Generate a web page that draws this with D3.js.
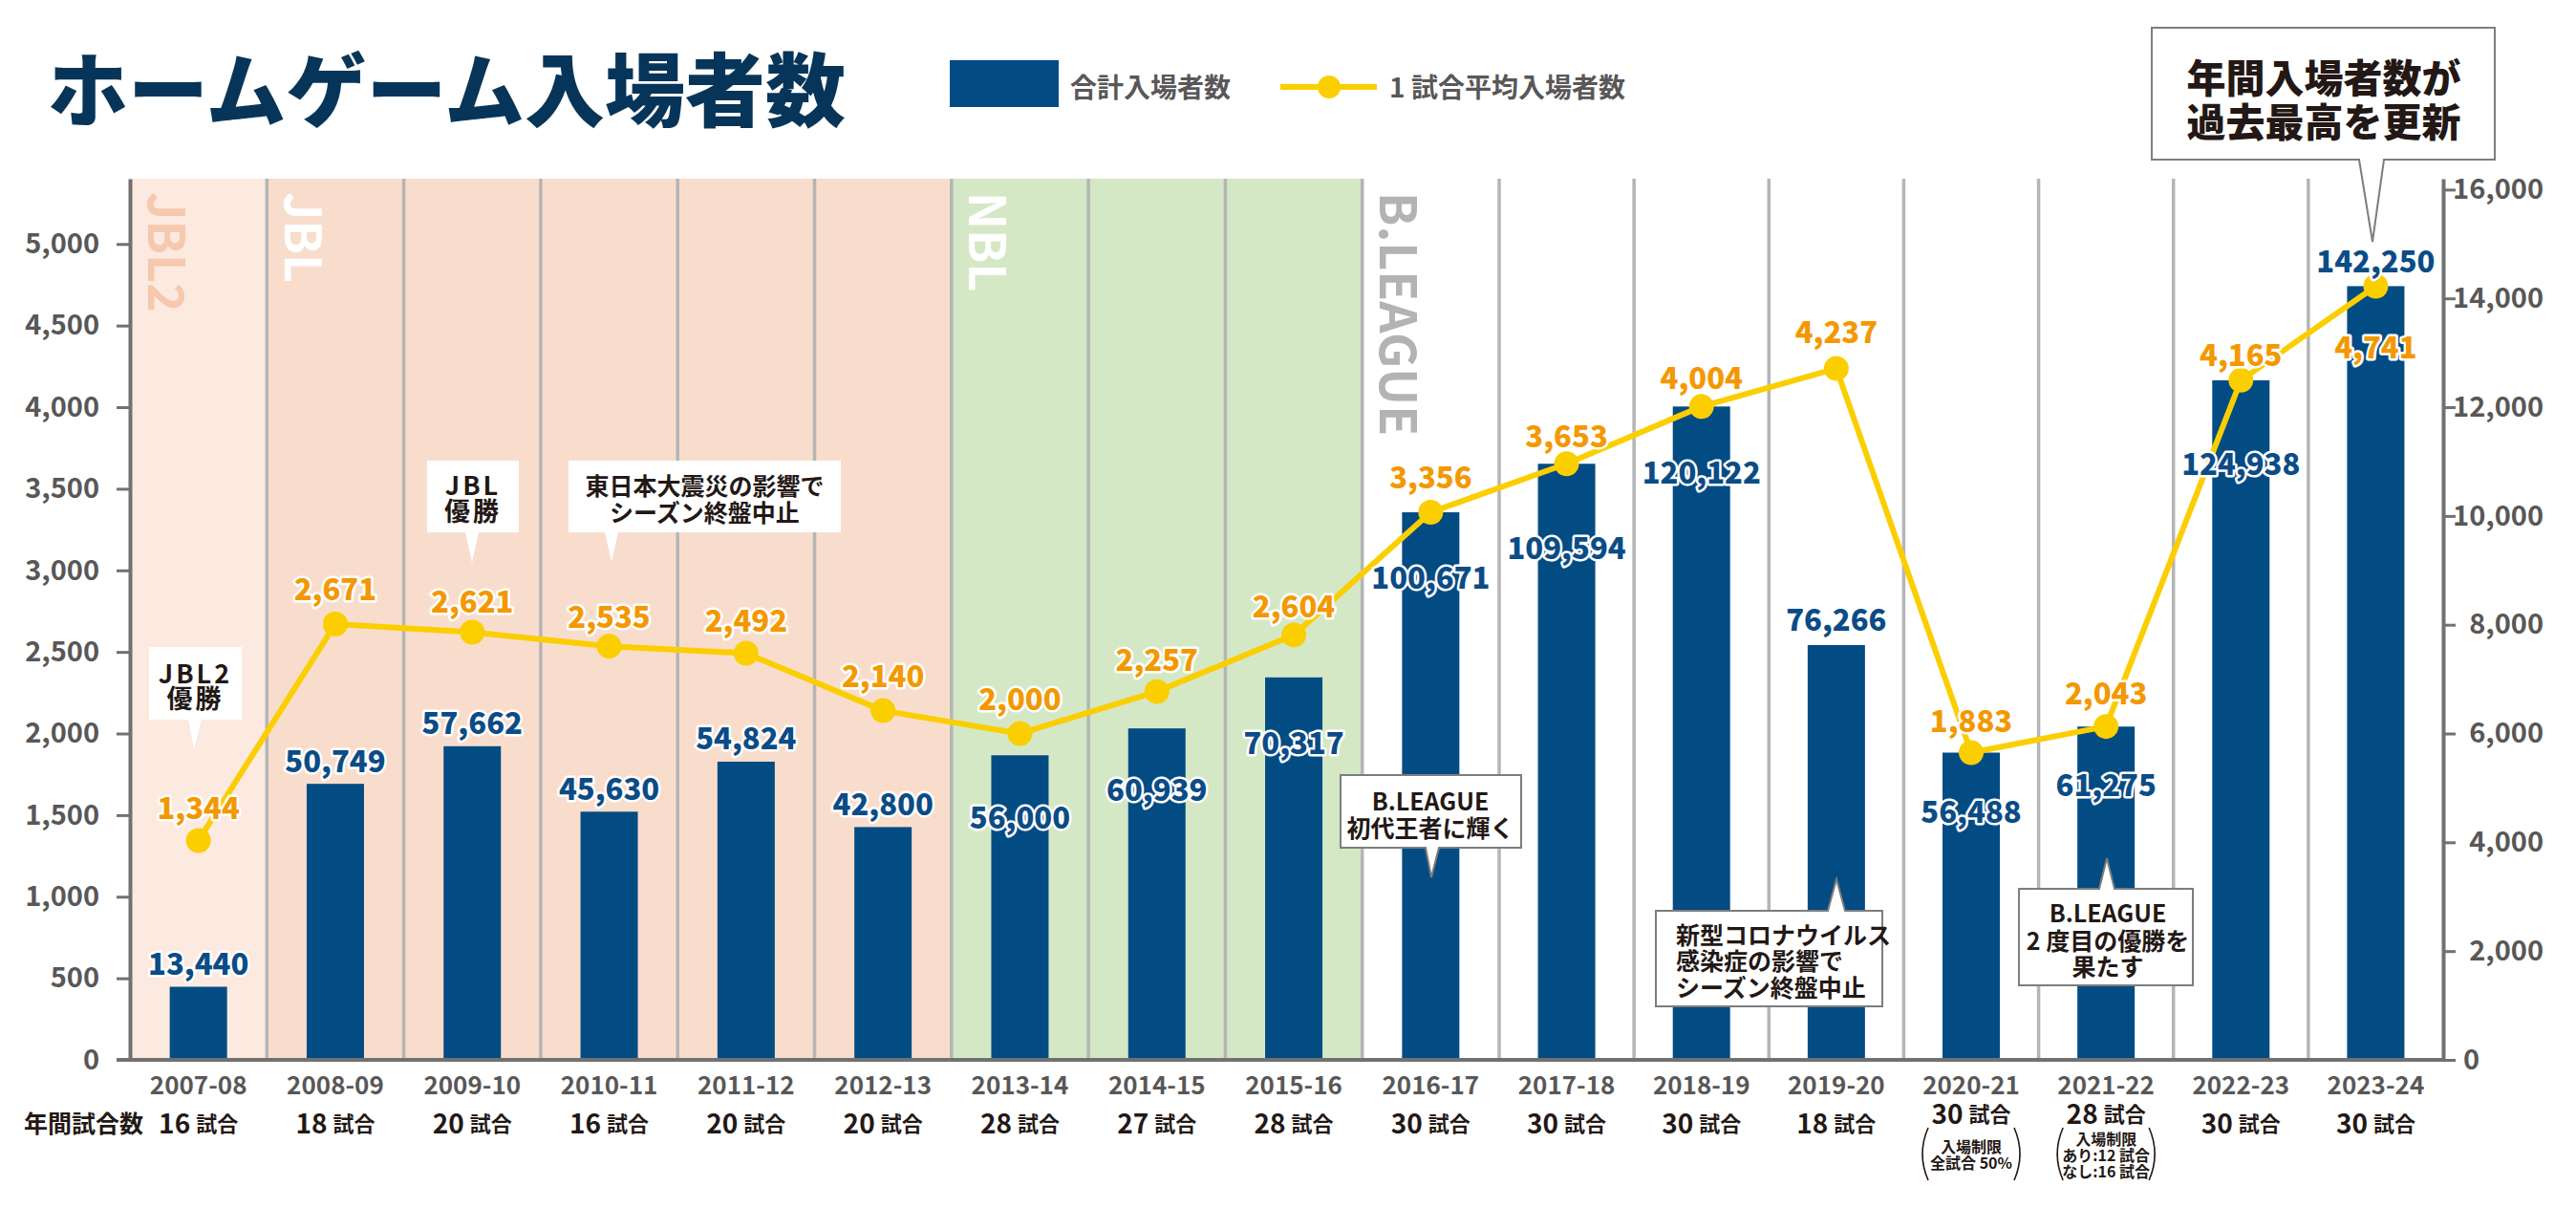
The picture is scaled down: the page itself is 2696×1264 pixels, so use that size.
<!DOCTYPE html>
<html>
<head>
<meta charset="utf-8">
<script src="https://cdn.jsdelivr.net/npm/d3@7"></script>
<style>
html,body{margin:0;padding:0;background:#fff;}
svg{display:block;font-family:"Noto Sans CJK JP","Noto Sans",sans-serif;}
</style>
</head>
<body>
<svg id="chart" width="2696" height="1264"></svg>
<script>
// ---------------- data ----------------
const seasons = ["2007-08","2008-09","2009-10","2010-11","2011-12","2012-13","2013-14","2014-15","2015-16","2016-17","2017-18","2018-19","2019-20","2020-21","2021-22","2022-23","2023-24"];
const totalAttendance = [13440,50749,57662,45630,54824,42800,56000,60939,70317,100671,109594,120122,76266,56488,61275,124938,142250];
const avgAttendance = [1344,2671,2621,2535,2492,2140,2000,2257,2604,3356,3653,4004,4237,1883,2043,4165,4741];
const gamesPerSeason = [16,18,20,16,20,20,28,27,28,30,30,30,18,30,28,30,30];
const leftTicks = [0,500,1000,1500,2000,2500,3000,3500,4000,4500,5000];
const rightTicks = [0,2000,4000,6000,8000,10000,12000,14000,16000];
const leagueNames = ["JBL2","JBL","NBL","B.LEAGUE"];
const leagueFirstSeason = [0,1,6,9];
const leagueLastSeason = [0,5,8,16];
const noteSeason2020 = ["入場制限","全試合 50%"];
const noteSeason2021 = ["入場制限","あり:12 試合","なし:16 試合"];

// ---------------- layout / style ----------------
const svg = d3.select("#chart");
const plotTop = 187, plotBottom = 1109, plotLeft = 136, plotRight = 2557;
const C = {
  bar:"#034c83", barLabel:"#0b4c86", line:"#fbce00", avgLabel:"#f39800",
  axis:"#727171", sep:"#b5b5b5", tick:"#595757", dark:"#231815", title:"#063559"
};
const leagueFill = {"JBL2":"#fce9e0","JBL":"#f9ddcc","NBL":"#d5e8c6","B.LEAGUE":"#ffffff"};
const leagueText = {"JBL2":"#f6c8ae","JBL":"#ffffff","NBL":"#ffffff","B.LEAGUE":"#b3b3b3"};
// label placement (not data): bar label above or inside bar, with offset
const barLabelDy = [-26,-26,-26,-26,-26,-26,63,62,67,66,86,67,-28,60,59,86,-28];
const avgLabelDy = [-36,-38,-34,-33,-36,-38,-38,-35,-32,-38,-31,-32,-40,-35,-37,-28,62];

// scales
const edge = d3.scaleLinear().domain([0,10,seasons.length]).range([plotLeft,1569,plotRight]);
const xc = i => (edge(i)+edge(i+1))/2;
const yLeft = d3.scaleLinear().domain([0,5400]).range([plotBottom,plotTop]);
const yRight = d3.scaleLinear().domain([0,16200]).range([plotBottom,plotTop]);
const yBar = d3.scaleLinear().domain([0,162000]).range([plotBottom,plotTop]);
const fmt = d3.format(",");
const barW = 60;

// ---------------- title & legend ----------------
svg.append("text").attr("x",50).attr("y",89).attr("dominant-baseline","central")
  .attr("font-size",84).attr("font-weight",900).attr("fill",C.title).text("ホームゲーム入場者数");

svg.append("rect").attr("x",994).attr("y",63).attr("width",114).attr("height",49).attr("fill",C.bar);
svg.append("text").attr("x",1120).attr("y",90).attr("dominant-baseline","central")
  .attr("font-size",28).attr("font-weight",700).attr("fill",C.tick).text("合計入場者数");
svg.append("line").attr("x1",1340).attr("x2",1441).attr("y1",91).attr("y2",91)
  .attr("stroke",C.line).attr("stroke-width",6);
svg.append("circle").attr("cx",1391).attr("cy",91).attr("r",12).attr("fill",C.line);
svg.append("text").attr("x",1454).attr("y",90).attr("dominant-baseline","central")
  .attr("font-size",28).attr("font-weight",700).attr("fill",C.tick).text("1 試合平均入場者数");

// ---------------- league bands ----------------
const g = svg.append("g");
leagueNames.forEach((name,k)=>{
  const x0 = edge(leagueFirstSeason[k]), x1 = edge(leagueLastSeason[k]+1);
  g.append("rect").attr("x",x0).attr("y",plotTop).attr("width",x1-x0).attr("height",plotBottom-plotTop)
    .attr("fill",leagueFill[name]);
});
// separators
d3.range(1,seasons.length).forEach(i=>{
  g.append("line").attr("x1",edge(i)).attr("x2",edge(i)).attr("y1",plotTop).attr("y2",plotBottom)
    .attr("stroke",C.sep).attr("stroke-width",3.5);
});
// league labels (rotated)
leagueNames.forEach((name,k)=>{
  const x0 = edge(leagueFirstSeason[k]);
  g.append("text").attr("transform",`translate(${x0+41},${plotTop+14}) rotate(90)`)
    .attr("dominant-baseline","central").attr("font-size",52).attr("font-weight",700)
    .attr("fill",leagueText[name]).text(name);
});

// ---------------- axes ----------------
const axL = svg.append("g").attr("transform",`translate(${plotLeft},0)`)
  .call(d3.axisLeft(yLeft).tickValues(leftTicks).tickSize(14).tickSizeOuter(0).tickPadding(18).tickFormat(fmt));
axL.select(".domain").attr("stroke",C.axis).attr("stroke-width",4);
axL.selectAll(".tick line").attr("stroke",C.axis).attr("stroke-width",3);
axL.selectAll(".tick text").attr("font-size",29).attr("font-weight",700).attr("fill",C.tick)
  .attr("font-family",'"Noto Sans CJK JP",sans-serif');

const axR = svg.append("g").attr("transform",`translate(${plotRight},0)`)
  .call(d3.axisRight(yRight).tickValues(rightTicks).tickSize(13).tickSizeOuter(0).tickPadding(20).tickFormat(fmt));
axR.select(".domain").attr("stroke",C.axis).attr("stroke-width",4);
axR.selectAll(".tick line").attr("stroke",C.axis).attr("stroke-width",3);
axR.selectAll(".tick text").attr("font-size",29).attr("font-weight",700).attr("fill",C.tick)
  .attr("font-family",'"Noto Sans CJK JP",sans-serif')
  .attr("text-anchor",d=>d===0?"start":"end").attr("x",d=>d===0?21:105);

svg.append("line").attr("x1",plotLeft-14).attr("x2",plotRight+2).attr("y1",plotBottom).attr("y2",plotBottom)
  .attr("stroke",C.axis).attr("stroke-width",4);

// ---------------- bars ----------------
svg.append("g").selectAll("rect").data(totalAttendance).join("rect")
  .attr("x",(d,i)=>xc(i)-barW/2).attr("width",barW)
  .attr("y",d=>yBar(d)).attr("height",d=>plotBottom-2-yBar(d)).attr("fill",C.bar);

// ---------------- line ----------------
const line = d3.line().x((d,i)=>xc(i)).y(d=>yLeft(d));
svg.append("path").datum(avgAttendance).attr("d",line).attr("fill","none")
  .attr("stroke",C.line).attr("stroke-width",6).attr("stroke-linejoin","round");
svg.append("g").selectAll("circle").data(avgAttendance).join("circle")
  .attr("cx",(d,i)=>xc(i)).attr("cy",d=>yLeft(d)).attr("r",13).attr("fill",C.line);

// ---------------- callouts ----------------
const callouts = [
  {lines:["JBL2","優勝"], box:[156,677,97,76], tip:[203,784], bx:204, bw:7, dir:"down", border:false, ty:[703,729], tx:204.5, fs:27, ls:3},
  {lines:["JBL","優勝"], box:[447,482,96,75], tip:[494,589], bx:494, bw:7, dir:"down", border:false, ty:[506,533], tx:495, fs:27, ls:3},
  {lines:["東日本大震災の影響で","シーズン終盤中止"], box:[595,482,285,75], tip:[640,588], bx:640, bw:7, dir:"down", border:false, ty:[507,535], tx:737.5, fs:25},
  {lines:["B.LEAGUE","初代王者に輝く"], box:[1403,811,189,76], tip:[1498,918], bx:1499, bw:7, dir:"down", border:true, ty:[837,865], tx:1497, fs:25},
  {lines:["新型コロナウイルス","感染症の影響で","シーズン終盤中止"], box:[1733,953,237,100], tip:[1922,920], bx:1922, bw:9, dir:"up", border:true, ty:[977,1004,1032], tx:1754, fs:25, anchor:"start"},
  {lines:["B.LEAGUE","2 度目の優勝を","果たす"], box:[2113,930,182,101], tip:[2205,898], bx:2205, bw:8, dir:"up", border:true, ty:[954,983,1010], tx:2206, fs:25},
  {lines:["年間入場者数が","過去最高を更新"], box:[2252,29,359,138], tip:[2483,253], bx:2482, bw:13, dir:"down", border:true, ty:[79,125], tx:2432, fs:41, fw:900}
];
const cg = svg.append("g");
callouts.forEach(a=>{
  const [x,y,w,h] = a.box, [tx,ty] = a.tip;
  let p;
  if (a.dir==="down") p = `M${x},${y}H${x+w}V${y+h}H${a.bx+a.bw}L${tx},${ty}L${a.bx-a.bw},${y+h}H${x}Z`;
  else p = `M${x},${y+h}H${x+w}V${y}H${a.bx+a.bw}L${tx},${ty}L${a.bx-a.bw},${y}H${x}Z`;
  cg.append("path").attr("d",p).attr("fill","#fff")
    .attr("stroke",a.border?"#7d7d7d":"none").attr("stroke-width",2).attr("stroke-linejoin","miter");
  a.lines.forEach((t,j)=>{
    cg.append("text").attr("x",a.tx).attr("y",a.ty[j]).attr("dominant-baseline","central")
      .attr("text-anchor",a.anchor||"middle").attr("font-size",a.fs).attr("font-weight",a.fw||700)
      .attr("letter-spacing",a.ls||0).attr("fill",C.dark).text(t);
  });
});

// ---------------- value labels ----------------
const lab = svg.append("g").attr("font-size",31).attr("font-weight",900).attr("text-anchor","middle")
  .attr("dominant-baseline","central").attr("stroke","#fff").attr("stroke-width",5)
  .attr("stroke-linejoin","round").attr("paint-order","stroke");
lab.selectAll("text.b").data(totalAttendance).join("text").attr("class","b")
  .attr("x",(d,i)=>xc(i)).attr("y",(d,i)=>yBar(d)+barLabelDy[i]).attr("fill",C.barLabel).text(d=>fmt(d));
lab.selectAll("text.a").data(avgAttendance).join("text").attr("class","a")
  .attr("x",(d,i)=>xc(i)).attr("y",(d,i)=>yLeft(d)+avgLabelDy[i]).attr("fill",C.avgLabel).text(d=>fmt(d));

// ---------------- x labels ----------------
const xl = svg.append("g");
seasons.forEach((s,i)=>{
  xl.append("text").attr("x",xc(i)).attr("y",1133).attr("text-anchor","middle").attr("dominant-baseline","central")
    .attr("font-size",26).attr("font-weight",700).attr("fill",C.tick).text(s);
  const raised = (i===13||i===14);
  const t = xl.append("text").attr("x",xc(i)).attr("y",raised?1164:1174).attr("text-anchor","middle")
    .attr("dominant-baseline","central").attr("fill",C.dark).attr("font-weight",700);
  t.append("tspan").attr("font-size",28).text(gamesPerSeason[i]);
  t.append("tspan").attr("font-size",22).attr("dx",6).text("試合");
});
xl.append("text").attr("x",25).attr("y",1174).attr("dominant-baseline","central")
  .attr("font-size",25).attr("font-weight",700).attr("fill",C.dark).text("年間試合数");

function note(i, lines){
  const cx = xc(i), mid = 1207.5, sp = 17;
  lines.forEach((t,j)=>{
    xl.append("text").attr("x",cx).attr("y",mid+(j-(lines.length-1)/2)*sp).attr("text-anchor","middle")
      .attr("dominant-baseline","central").attr("font-size",16).attr("font-weight",700).attr("fill",C.dark).text(t);
  });
  [-1,1].forEach(sg=>{
    xl.append("path").attr("d",`M${cx+sg*45},1180Q${cx+sg*57},1207.5 ${cx+sg*45},1235`)
      .attr("fill","none").attr("stroke",C.dark).attr("stroke-width",1.6);
  });
}
note(13, noteSeason2020);
note(14, noteSeason2021);
</script>
</body>
</html>
